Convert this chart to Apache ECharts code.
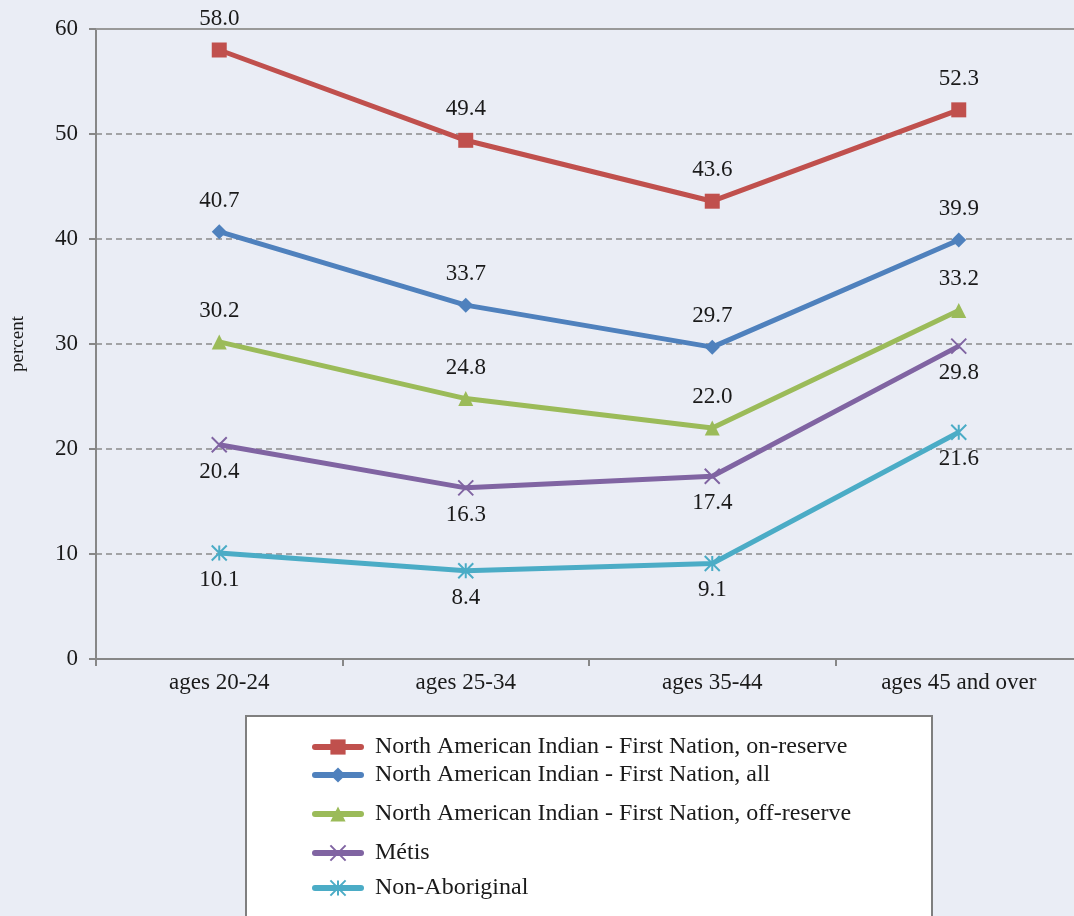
<!DOCTYPE html>
<html>
<head>
<meta charset="utf-8">
<style>
  html, body { margin: 0; padding: 0; background: #eaedf5; }
  #chart { width: 1074px; height: 916px; }
</style>
<script src="https://cdn.jsdelivr.net/npm/echarts@6/dist/echarts.min.js"></script>
</head>
<body>
<div id="chart"></div>
<script>
  // categories and series values
  var ages = ['ages 20-24', 'ages 25-34', 'ages 35-44', 'ages 45 and over'];
  var onReserve = [58.0, 49.4, 43.6, 52.3];
  var firstNationAll = [40.7, 33.7, 29.7, 39.9];
  var offReserve = [30.2, 24.8, 22.0, 33.2];
  var metis = [20.4, 16.3, 17.4, 29.8];
  var nonAboriginal = [10.1, 8.4, 9.1, 21.6];

  var names = [
    'North American Indian - First Nation, on-reserve',
    'North American Indian - First Nation, all',
    'North American Indian - First Nation, off-reserve',
    'Métis',
    'Non-Aboriginal'
  ];
  var colors = ['#c0504d', '#4f81bd', '#9bbb59', '#8064a2', '#4bacc6'];
  var symbols = ['rect', 'diamond', 'triangle', 'path://M0,0L10,10M10,0L0,10', 'path://M0,0L10,10M10,0L0,10M5,0L5,10'];
  var values = [onReserve, firstNationAll, offReserve, metis, nonAboriginal];
  var labelPos = ['top', 'top', 'top', 'bottom', 'bottom'];
  var legendTops = [735, 763, 802, 841, 876];

  var font = '"Liberation Serif", "DejaVu Serif", serif';

  var series = values.map(function (v, i) {
    var isCross = i >= 3;
    return {
      name: names[i],
      type: 'line',
      data: v,
      symbol: symbols[i],
      symbolSize: 15,
      lineStyle: { color: colors[i], width: 5 },
      itemStyle: isCross
        ? { color: colors[i], borderColor: colors[i], borderWidth: 2 }
        : { color: colors[i] },
      label: {
        show: true,
        position: labelPos[i],
        distance: labelPos[i] === 'top' ? 12 : 7,
        color: '#1a1a1a',
        fontFamily: font,
        fontSize: 23,
        formatter: function (p) { return p.value.toFixed(1); }
      },
      emphasis: { disabled: true },
      animation: false
    };
  });

  var legends = names.map(function (n, i) {
    return {
      data: [n],
      left: 312,
      top: legendTops[i],
      padding: 0,
      itemWidth: 46,
      itemHeight: 19,
      itemGap: 0,
      lineStyle: { width: 6, cap: 'round' },
      textStyle: { fontFamily: font, fontSize: 24, color: '#1a1a1a', padding: [0, 0, 0, 9] },
      selectedMode: false
    };
  });

  var chart = echarts.init(document.getElementById('chart'));
  chart.setOption({
    backgroundColor: '#eaedf5',
    color: colors,
    grid: { left: 96, right: -8, top: 29, bottom: 257, outerBoundsMode: 'none' },
    graphic: [{
      type: 'rect',
      z: -1,
      shape: { x: 246, y: 716, width: 686, height: 220 },
      style: { fill: '#ffffff', stroke: '#7f7f7f', lineWidth: 2 }
    }],
    legend: legends,
    xAxis: [{
      type: 'category',
      data: ages,
      axisLine: { lineStyle: { color: '#878787', width: 2 } },
      axisTick: { show: true, length: 7, lineStyle: { color: '#878787', width: 2 } },
      axisLabel: { color: '#1a1a1a', fontFamily: font, fontSize: 23, margin: 12 }
    }, {
      type: 'category',
      data: ages,
      position: 'top',
      axisLine: { lineStyle: { color: '#999999', width: 2 } },
      axisTick: { show: false },
      axisLabel: { show: false }
    }],
    yAxis: {
      type: 'value',
      min: 0,
      max: 60,
      interval: 10,
      name: 'percent',
      nameLocation: 'middle',
      nameGap: 68,
      nameRotate: 90,
      nameTextStyle: { color: '#1a1a1a', fontFamily: font, fontSize: 19 },
      axisLine: { show: true, lineStyle: { color: '#878787', width: 2 } },
      axisTick: { show: true, length: 7, lineStyle: { color: '#878787', width: 2 } },
      axisLabel: { color: '#1a1a1a', fontFamily: font, fontSize: 23, margin: 18 },
      splitLine: { show: true, lineStyle: { color: '#8a8a8a', type: [6, 4], width: 1.5 } }
    },
    series: series
  });
</script>
</body>
</html>
